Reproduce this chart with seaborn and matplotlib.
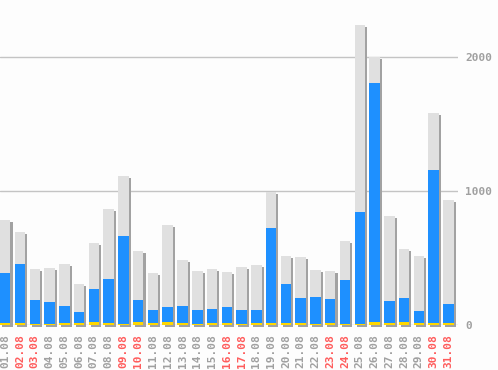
import pandas as pd
import numpy as np
import matplotlib
matplotlib.use("Agg")
import matplotlib.pyplot as plt
import matplotlib.patheffects as pe
import seaborn as sns

# daily values, August
days = ["01.08", "02.08", "03.08", "04.08", "05.08", "06.08", "07.08", "08.08",
        "09.08", "10.08", "11.08", "12.08", "13.08", "14.08", "15.08", "16.08",
        "17.08", "18.08", "19.08", "20.08", "21.08", "22.08", "23.08", "24.08",
        "25.08", "26.08", "27.08", "28.08", "29.08", "30.08", "31.08"]
total = [784, 694, 418, 425, 455, 306, 612, 866, 1110, 552, 388, 746, 485, 403, 418, 395,
         433, 448, 993, 515, 507, 410, 403, 627, 2239, 1998, 813, 567, 515, 1582, 930]
blue = [390, 455, 187, 172, 142, 97, 269, 343, 664, 187, 112, 134, 142, 112, 119, 134,
        112, 112, 724, 306, 201, 209, 194, 336, 843, 1806, 179, 201, 104, 1157, 157]
yellow = [15, 15, 7, 7, 15, 15, 22, 15, 7, 22, 15, 22, 15, 7, 15, 15,
          7, 15, 15, 15, 15, 7, 15, 7, 7, 22, 15, 22, 15, 15, 15]
weekend = ["02.08", "03.08", "09.08", "10.08", "16.08", "17.08",
           "23.08", "24.08", "30.08", "31.08"]
y_ticks = [0, 1000, 2000]

df = pd.DataFrame({"day": days, "total": total, "blue": blue, "yellow": yellow})

sns.set_style("white")
plt.rcParams["font.family"] = ["DejaVu Sans Mono"]

bg = "#fdfdfd"
fig = plt.figure(figsize=(4.98, 3.70), dpi=100, facecolor=bg)
ax = fig.add_axes([0, 45 / 370, 458 / 498, 325 / 370], facecolor=bg)

for y in y_ticks:
    ax.axhline(y, color="#c4c4c4", lw=1, zorder=0)

w = 0.71
sns.barplot(data=df, x="day", y="total", order=days, color="#e0e0e0", saturation=1,
            width=w, linewidth=0, ax=ax, zorder=2)
shadow = [pe.SimplePatchShadow(offset=(1.5, -1.5), shadow_rgbFace="#a2a2a2", alpha=1.0),
          pe.Normal()]
for p in ax.patches:
    p.set_path_effects(shadow)
    p.set_clip_on(False)
sns.barplot(data=df, x="day", y="blue", order=days, color="#1e90ff", saturation=1,
            width=w, linewidth=0, ax=ax, zorder=3)
sns.barplot(data=df, x="day", y="yellow", order=days, color="#ffd700", saturation=1,
            width=w, linewidth=0, ax=ax, zorder=4)

ax.set_xlim(-0.355, 30.65)
ax.set_ylim(0, 2425)
for s in ax.spines.values():
    s.set_visible(False)
ax.set_xlabel("")
ax.set_ylabel("")

ax.yaxis.tick_right()
ax.set_yticks(y_ticks)
ax.set_yticklabels([str(v) for v in y_ticks], color="#a0a0a0", fontsize=8, fontweight="bold")
ax.tick_params(axis="y", length=0, pad=5)

ax.set_xticks(range(len(days)))
ax.set_xticklabels(days, rotation=90, fontsize=8, fontweight="bold")
ax.tick_params(axis="x", length=0, pad=7)
for lbl in ax.get_xticklabels():
    lbl.set_color("#ff5c5c" if lbl.get_text() in weekend else "#a0a0a0")

fig.savefig("out.png", dpi=100, facecolor=bg)
